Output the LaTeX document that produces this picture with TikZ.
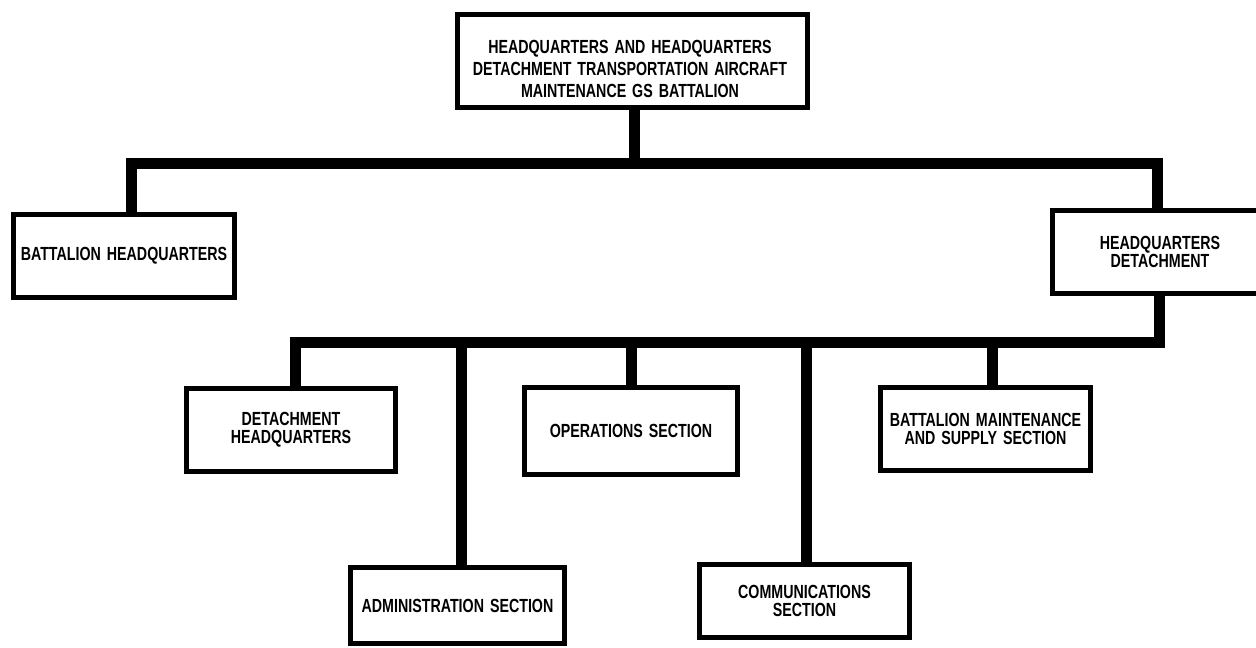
\documentclass[tikz,border=0pt]{standalone}
\usepackage{fontspec}
\setmainfont{Liberation Sans}[FakeStretch=0.75, WordSpace=1.5]
\begin{document}
\begin{tikzpicture}[x=1pt,y=-1pt,
  unit/.style={draw, line width=5pt, fill=white, inner sep=0pt, align=center,
    font=\fontsize{19}{18}\selectfont\bfseries},
  conn/.style={line width=11pt, line join=miter}]
\useasboundingbox (0,0) rectangle (1256,648);
\clip (0,0) rectangle (1256,648);

% battalion command box
\node[unit, minimum width=350pt, minimum height=93pt] (top) at (632.5,61) {};
\node[font=\fontsize{19}{22}\selectfont\bfseries, align=center, inner sep=0pt] (toptext) at (630,69)
  {HEADQUARTERS AND HEADQUARTERS\\DETACHMENT TRANSPORTATION AIRCRAFT\\MAINTENANCE GS BATTALION};

% second level
\node[unit, minimum width=221pt, minimum height=83pt] (bhq) at (124,256) {BATTALION HEADQUARTERS};
\node[unit, minimum width=215pt, minimum height=83pt] (hqd) at (1160,252) {HEADQUARTERS\\DETACHMENT};

% sections under the detachment
\node[unit, minimum width=209pt, minimum height=83pt] (dhq) at (291,430) {DETACHMENT\\HEADQUARTERS};
\node[unit, minimum width=213pt, minimum height=87pt] (ops) at (631,431) {OPERATIONS SECTION};
\node[unit, minimum width=210pt, minimum height=83pt] (bms) at (985.5,429) {BATTALION MAINTENANCE\\AND SUPPLY SECTION};
\node[unit, minimum width=214pt, minimum height=76pt] (adm) at (457.5,605.5) {ADMINISTRATION SECTION};
\node[unit, minimum width=210pt, minimum height=73pt] (com) at (804.5,601) {COMMUNICATIONS\\SECTION};

% bus lines
\coordinate (bus1) at (634,163);
\coordinate (bus2) at (632,342.5);

\draw[conn] ([xshift=1.5pt]top.south) -- (bus1);
\draw[conn] ([xshift=7pt]bhq.north) |- (bus1) -| ([xshift=-3pt]hqd.north);
\draw[conn] ([xshift=4pt]dhq.north) |- (bus2) -| ([xshift=-1pt]hqd.south);
\draw[conn] (ops.north) -- (ops.north |- bus2);
\draw[conn] ([xshift=6.5pt]bms.north) -- ([xshift=6.5pt]bms.north |- bus2);
\draw[conn] ([xshift=3.5pt]adm.north) -- ([xshift=3.5pt]adm.north |- bus2);
\draw[conn] ([xshift=1.5pt]com.north) -- ([xshift=1.5pt]com.north |- bus2);
\end{tikzpicture}
\end{document}
